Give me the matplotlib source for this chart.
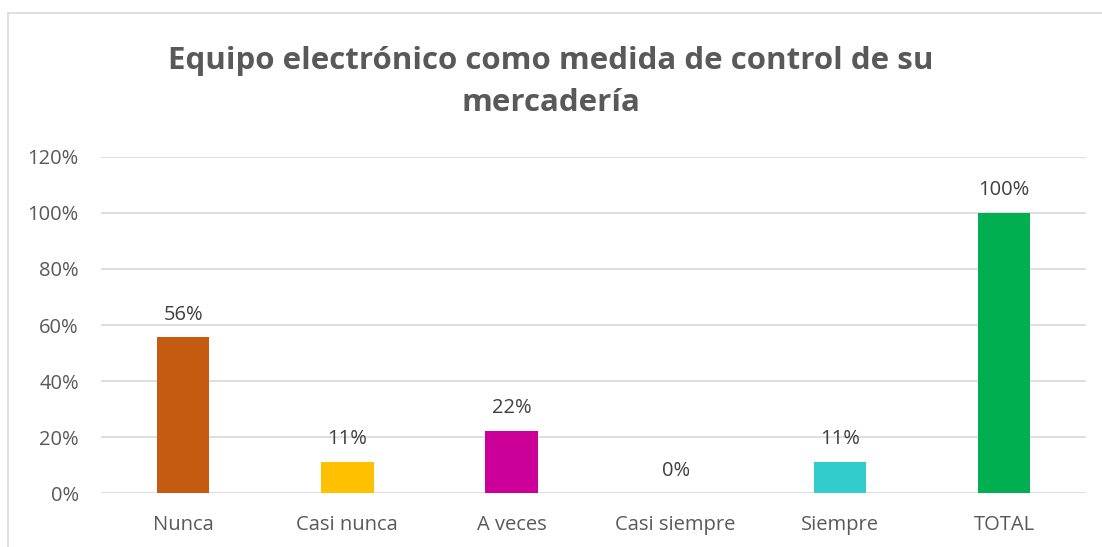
import matplotlib
matplotlib.use("Agg")
from matplotlib import pyplot as plt
from matplotlib.patches import Rectangle
from matplotlib.ticker import FuncFormatter

categories = ["Nunca", "Casi nunca", "A veces", "Casi siempre", "Siempre", "TOTAL"]
values = [0.556, 0.111, 0.222, 0.0, 0.111, 1.0]
value_labels = ["56%", "11%", "22%", "0%", "11%", "100%"]
colors = ["#C55A11", "#FFC000", "#CC0099", "#A5A5A5", "#33CCCC", "#00B050"]
y_ticks = [0, 0.2, 0.4, 0.6, 0.8, 1.0, 1.2]

TEXT_GRAY = "#595959"
GRID_GRAY = "#D9D9D9"

plt.rcParams["font.family"] = ["Open Sans", "DejaVu Sans"]

fig = plt.figure(figsize=(11.02, 5.47), dpi=100)
ax = fig.add_axes([0.0917, 0.0987, 0.8938, 0.6143])

# Outer chart frame (extends past right / bottom edge in the original)
fig.add_artist(Rectangle((8 / 1102, -0.1), 1.2, 1 - 13 / 547 + 0.1,
                         transform=fig.transFigure, fill=False,
                         edgecolor=GRID_GRAY, linewidth=1.2))

x = range(len(categories))
ax.bar(x, values, width=0.32, color=colors, zorder=3)

for i, (v, lab) in enumerate(zip(values, value_labels)):
    ax.annotate(lab, (i, v), xytext=(0, 9), textcoords="offset points",
                ha="center", va="bottom", fontsize=14.5, color="#404040")

ax.set_xlim(-0.5, len(categories) - 0.5)
ax.set_ylim(0, 1.2)
ax.set_yticks(y_ticks)
ax.yaxis.set_major_formatter(FuncFormatter(lambda v, p: f"{v * 100:.0f}%"))
ax.set_xticks(list(x))
ax.set_xticklabels(categories)
ax.tick_params(axis="both", length=0, labelsize=14.5, labelcolor=TEXT_GRAY)
ax.tick_params(axis="y", pad=16)
ax.tick_params(axis="x", pad=16)
ax.grid(axis="y", color=GRID_GRAY, linewidth=1.2, zorder=0)
for s in ax.spines.values():
    s.set_visible(False)

fig.text(0.5, 0.85, "Equipo electrónico como medida de control de su\nmercadería",
         ha="center", va="center", fontsize=22.5, fontweight="bold",
         color=TEXT_GRAY, linespacing=1.55)

fig.savefig("out.png", dpi=100)
